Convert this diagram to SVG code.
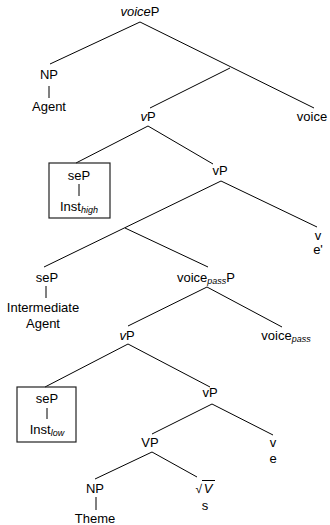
<svg xmlns="http://www.w3.org/2000/svg" width="330" height="525" viewBox="0 0 330 525">
<style>
text{font-family:"Liberation Sans",Arial,sans-serif;font-size:13px;fill:#000;text-anchor:middle}
.i{font-style:italic}
.sub{font-size:9px;font-style:italic}
line{stroke:#000;stroke-width:1}
.box{fill:none;stroke:#222;stroke-width:1.2}
</style>
<rect width="330" height="525" fill="#fff"/>
<g id="connectors">
<line x1="140" y1="22" x2="50" y2="64"/>
<line x1="140" y1="22" x2="314" y2="108"/>
<line x1="230" y1="68" x2="150" y2="108"/>
<line x1="49" y1="86" x2="49" y2="98"/>
<line x1="148" y1="126" x2="76" y2="163"/>
<line x1="148" y1="126" x2="213" y2="164"/>
<line x1="79" y1="184" x2="79" y2="196"/>
<line x1="221" y1="181" x2="44" y2="267"/>
<line x1="221" y1="181" x2="317" y2="227"/>
<line x1="125" y1="228" x2="208" y2="267"/>
<line x1="46" y1="286" x2="46" y2="298"/>
<line x1="207" y1="287" x2="128" y2="326"/>
<line x1="207" y1="287" x2="282" y2="327"/>
<line x1="128" y1="344" x2="45" y2="387"/>
<line x1="128" y1="344" x2="210" y2="387"/>
<line x1="47" y1="408" x2="47" y2="419"/>
<line x1="212" y1="404" x2="152" y2="434"/>
<line x1="212" y1="404" x2="273" y2="435"/>
<line x1="152" y1="452" x2="95" y2="479"/>
<line x1="152" y1="452" x2="197" y2="477"/>
<line x1="96" y1="497" x2="96" y2="510"/>
</g>
<g id="voiceP"><text x="140" y="16"><tspan class="i">voice</tspan>P</text></g>
<g id="NP1"><text x="49" y="79">NP</text><text x="49" y="111">Agent</text></g>
<g id="voice"><text x="312" y="121">voice</text></g>
<g id="vP1"><text x="148" y="121"><tspan class="i">v</tspan>P</text></g>
<g id="seP1"><rect class="box" x="49" y="163" width="61" height="55"/><text x="79" y="180">seP</text><text x="79" y="211">Inst<tspan class="sub" dy="2">high</tspan></text></g>
<g id="vP2"><text x="220" y="175">vP</text></g>
<g id="v1"><text x="318" y="240">v</text><text x="318" y="254">e'</text></g>
<g id="seP2"><text x="47" y="282">seP</text><text x="43" y="312">Intermediate</text><text x="43" y="328">Agent</text></g>
<g id="voicepassP"><text x="206" y="282">voice<tspan class="sub" dy="2">pass</tspan><tspan dy="-2">P</tspan></text></g>
<g id="vP3"><text x="127" y="340"><tspan class="i">v</tspan>P</text></g>
<g id="voicepass"><text x="286" y="340">voice<tspan class="sub" dy="2">pass</tspan></text></g>
<g id="seP3"><rect class="box" x="17" y="387" width="59" height="55"/><text x="47" y="403">seP</text><text x="47" y="434">Inst<tspan class="sub" dy="2">low</tspan></text></g>
<g id="vP4"><text x="210" y="397">vP</text></g>
<g id="VP"><text x="150" y="447">VP</text></g>
<g id="v2"><text x="273" y="447">v</text><text x="273" y="463">e</text></g>
<g id="NP2"><text x="95" y="493">NP</text><text x="95" y="523">Theme</text></g>
<g id="rootV"><text x="202" y="493" style="text-anchor:end;font-size:12px">√</text><text x="208" y="493" class="i">V</text><line x1="202" y1="480.5" x2="215" y2="480.5"/><text x="205" y="510">s</text></g>
</svg>
